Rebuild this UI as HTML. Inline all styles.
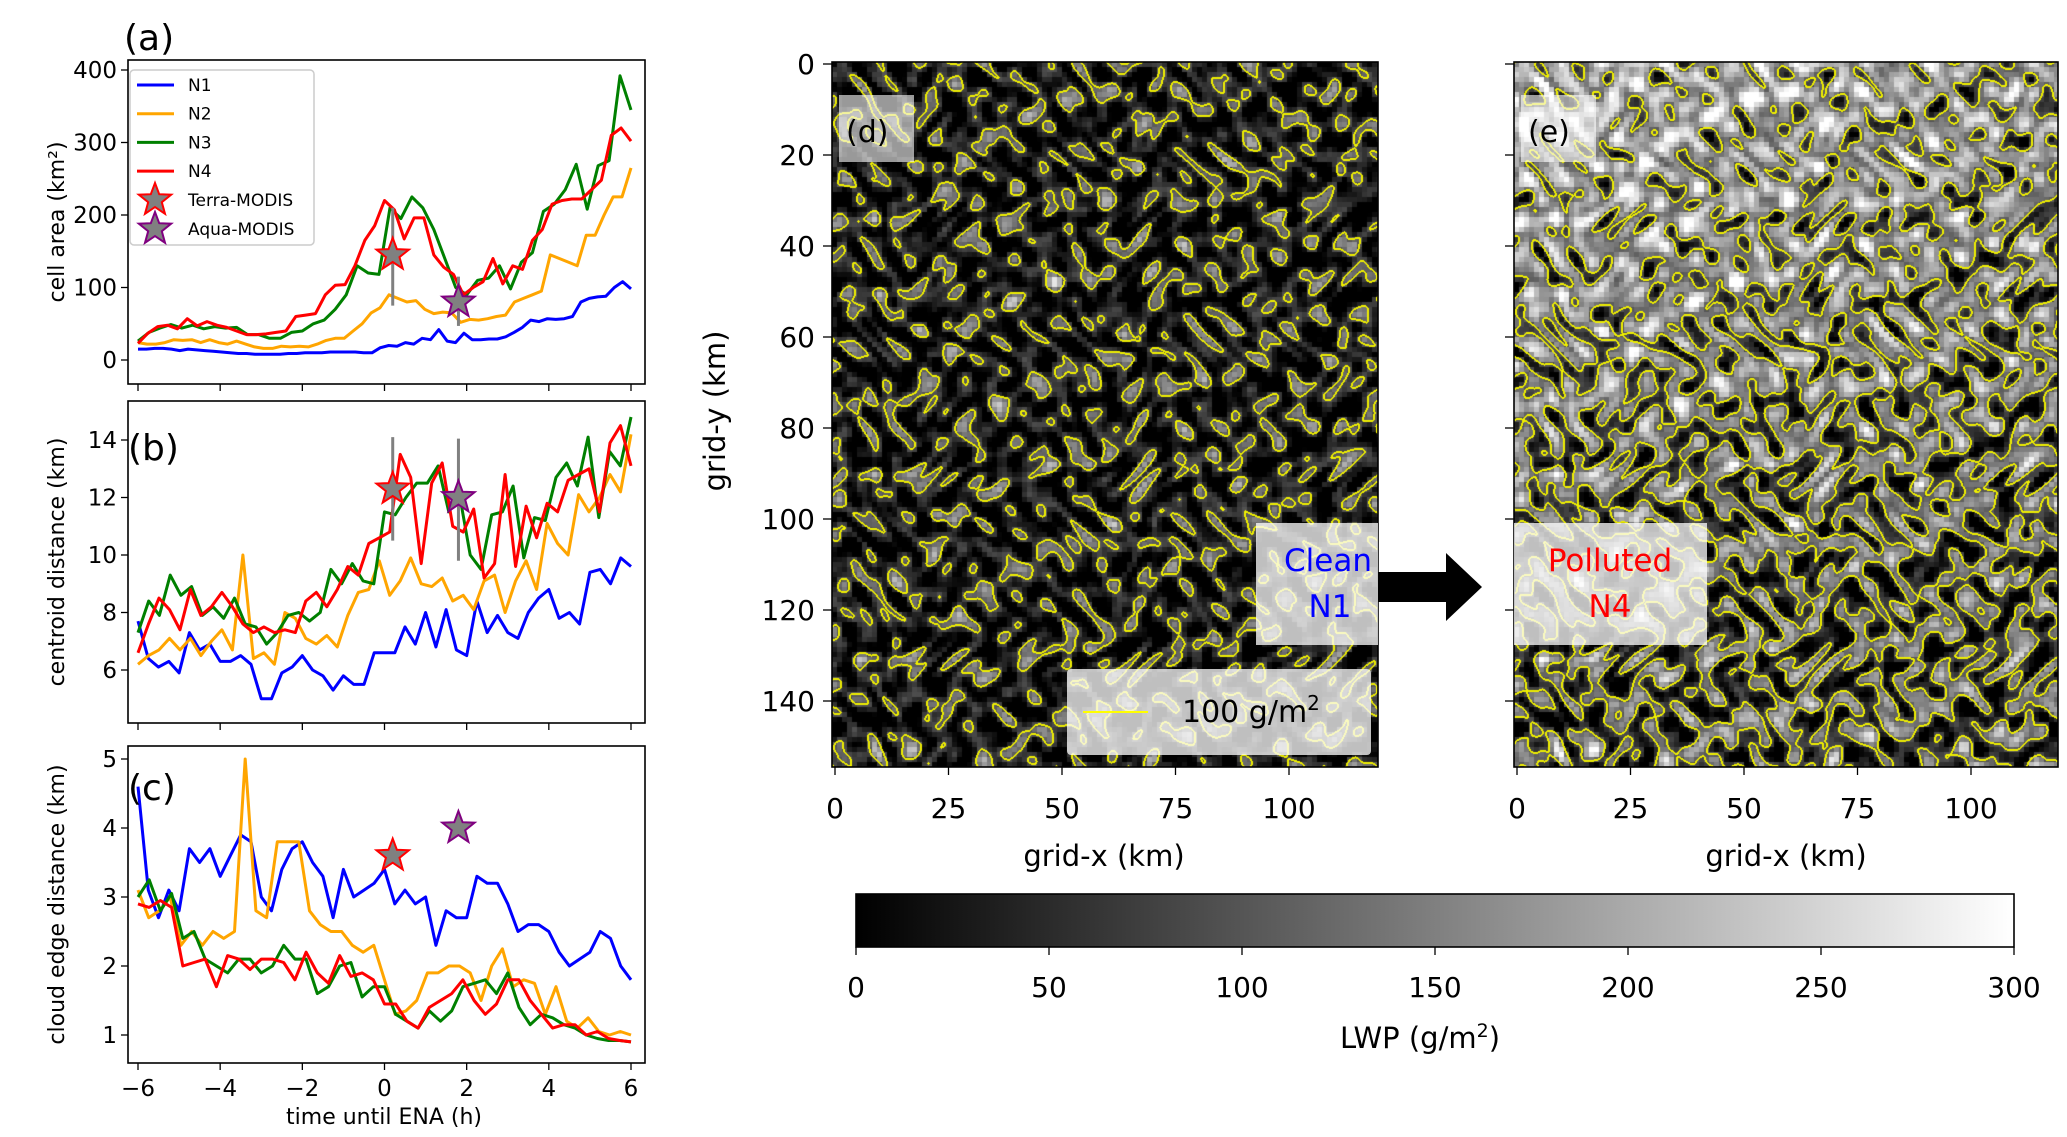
<!DOCTYPE html>
<html><head><meta charset="utf-8">
<style>
html,body{margin:0;padding:0;background:#fff;}
#wrap{position:relative;width:2067px;height:1137px;overflow:hidden;font-family:"Liberation Sans","DejaVu Sans",sans-serif;}
canvas{position:absolute;}
svg{position:absolute;left:0;top:0;}
text{font-family:"DejaVu Sans","Liberation Sans",sans-serif;}
</style></head>
<body>
<div id="wrap">
<canvas id="hd" width="546" height="705" style="left:832px;top:62px;"></canvas>
<canvas id="he" width="544" height="705" style="left:1514px;top:62px;"></canvas>
<svg id="svg" width="2067" height="1137" xmlns="http://www.w3.org/2000/svg"></svg>
</div>
<script>
// ---- data ----
const n1a=[15,15,16,16,15,13,15,14,13,12,11,10,9,9,8,8,8,8,9,9,10,10,10,11,11,11,11,10,10,17,20,19,24,22,30,28,42,26,24,37,28,28,29,29,32,38,45,55,53,57,56,57,60,80,85,87,88,100,108,98];
const n2a=[24,22,22,24,28,27,28,24,28,24,22,26,22,18,16,16,19,18,19,18,22,27,30,30,40,50,65,72,90,85,80,82,70,64,66,65,52,56,55,57,60,62,80,85,90,95,145,140,135,130,172,172,200,225,225,265];
const n3a=[26,38,44,49,44,48,43,46,44,45,35,35,30,30,38,40,50,55,70,90,130,120,118,210,195,225,210,180,140,100,90,110,113,130,98,135,148,205,215,235,270,208,268,275,392,345];
const n4a=[23,37,46,48,43,57,47,53,48,45,40,35,35,36,38,40,60,62,64,90,103,104,130,165,185,220,207,167,196,196,145,128,118,90,100,108,140,105,130,125,165,180,215,220,222,222,235,248,310,320,302];
const n1b=[7.7,6.4,6.1,6.3,5.9,7.3,6.7,6.9,6.3,6.3,6.5,6.2,5.0,5.0,5.9,6.1,6.5,6.0,5.8,5.3,5.8,5.5,5.5,6.6,6.6,6.6,7.5,6.9,8.0,6.8,8.1,6.7,6.5,8.4,7.3,7.9,7.3,7.1,8.0,8.5,8.8,7.8,8.0,7.6,9.4,9.5,9.0,9.9,9.6];
const n2b=[6.2,6.5,6.7,7.1,6.7,7.1,6.5,7.0,7.4,6.7,10.0,6.4,6.6,6.2,8.0,7.8,7.1,6.9,7.2,6.8,7.9,8.7,8.8,9.8,8.6,9.1,9.9,9.0,8.9,9.2,8.4,8.6,8.1,9.1,9.3,8.0,9.1,9.8,8.8,11.1,10.4,10.0,12.1,11.5,12.0,12.8,12.2,14.2];
const n3b=[7.3,8.4,7.9,9.3,8.6,8.9,7.9,8.2,7.8,8.5,7.6,7.5,6.9,7.3,7.9,8.0,7.7,8.0,9.5,9.0,9.7,9.1,9.0,11.5,11.4,12.0,12.5,12.5,13.1,11.5,12.1,10.0,9.5,11.4,11.5,12.4,9.9,11.3,11.2,12.7,13.2,12.4,14.1,11.3,13.6,13.1,14.8];
const n4b=[6.6,7.6,8.5,8.1,7.4,8.8,7.9,8.2,8.7,8.2,7.6,7.3,7.5,7.3,7.4,7.3,8.4,8.7,8.2,8.8,9.6,9.3,10.4,10.6,10.8,13.5,12.7,9.7,12.5,13.2,11.0,10.8,11.6,9.2,9.7,12.8,9.6,11.7,10.6,11.8,11.5,12.6,12.8,13.0,11.5,13.9,14.5,13.1];
const n1c=[4.6,3.1,2.7,3.1,2.8,3.7,3.5,3.7,3.3,3.6,3.9,3.8,3.0,2.8,3.4,3.7,3.8,3.5,3.3,2.7,3.4,3.0,3.1,3.2,3.4,2.9,3.1,2.9,3.0,2.3,2.8,2.7,2.7,3.3,3.2,3.2,2.9,2.5,2.6,2.6,2.5,2.2,2.0,2.1,2.2,2.5,2.4,2.0,1.8];
const n2c=[3.1,2.7,2.8,3.0,2.3,2.5,2.3,2.5,2.4,2.5,5.0,2.8,2.7,3.8,3.8,3.8,2.8,2.6,2.5,2.5,2.3,2.2,2.3,1.8,1.3,1.35,1.5,1.9,1.9,2.0,2.0,1.9,1.5,2.0,2.25,1.7,1.8,1.75,1.3,1.7,1.2,1.1,1.25,1.05,1.0,1.05,1.0];
const n3c=[3.0,3.25,2.8,3.05,2.4,2.5,2.1,2.0,1.9,2.1,2.1,1.9,2.0,2.3,2.1,2.1,1.6,1.7,2.0,2.05,1.55,1.7,1.7,1.3,1.2,1.1,1.35,1.2,1.35,1.7,1.75,1.8,1.6,1.9,1.4,1.15,1.3,1.25,1.15,1.1,1.0,0.95,0.92,0.92,0.9];
const n4c=[2.9,2.85,2.95,2.85,2.0,2.05,2.1,1.7,2.15,2.1,1.95,2.1,2.1,2.05,1.8,2.2,1.9,1.75,2.15,1.85,1.9,1.8,1.45,1.45,1.2,1.1,1.4,1.5,1.6,1.8,1.5,1.3,1.45,1.8,1.8,1.5,1.3,1.1,1.15,1.15,1.0,1.05,0.95,0.92,0.9];
const starT=[0.2,0.2,0.2]; const terraVals=[145,12.3,3.6]; const terraLo=[75,10.5,null]; const terraHi=[210,14.1,null];
const starA=[1.8,1.8,1.8]; const aquaVals=[80,12.0,4.0]; const aquaLo=[47,9.8,null]; const aquaHi=[115,14.05,null];
const xTicks=[-6,-4,-2,0,2,4,6];
const yTicksA=[0,100,200,300,400]; const yTicksB=[6,8,10,12,14]; const yTicksC=[1,2,3,4,5];
const mapTicksX=[0,25,50,75,100]; const mapTicksY=[0,20,40,60,80,100,120,140];
const cbTicks=[0,50,100,150,200,250,300];

const NS="http://www.w3.org/2000/svg";
const svg=document.getElementById('svg');
function el(tag,attrs,parent){const e=document.createElementNS(NS,tag);for(const k in attrs)e.setAttribute(k,attrs[k]);(parent||svg).appendChild(e);return e;}
function txt(s,attrs,parent){const e=el('text',attrs,parent);e.textContent=s;return e;}

const X=t=>138+(t+6)/12*(631-138);
const panels=[
 {name:'a',top:60,bot:384,y:v=>360-v/400*290,ticks:yTicksA,series:[n1a,n2a,n3a,n4a],label:'cell area (km²)',lab:'(a)',labY:50,labX:124,idx:0},
 {name:'b',top:401,bot:723,y:v=>670-(v-6)/8*230,ticks:yTicksB,series:[n1b,n2b,n3b,n4b],label:'centroid distance (km)',lab:'(b)',labY:460,labX:128,idx:1},
 {name:'c',top:746,bot:1063,y:v=>1035-(v-1)/4*276,ticks:yTicksC,series:[n1c,n2c,n3c,n4c],label:'cloud edge distance (km)',lab:'(c)',labY:800,labX:128,idx:2}
];
const colors=['#0000ff','#ffa500','#008000','#ff0000'];
function starPts(cx,cy,R){const r=R*0.42;let p=[];for(let i=0;i<10;i++){const a=-Math.PI/2+i*Math.PI/5;const rr=i%2?r:R;p.push((cx+rr*Math.cos(a)).toFixed(1)+','+(cy+rr*Math.sin(a)).toFixed(1));}return p.join(' ');}
panels.forEach(p=>{
  const g=el('g',{});
  
  
  p.series.forEach((s,si)=>{
    const pts=s.map((v,i)=>X(-6+12*i/(s.length-1)).toFixed(1)+','+p.y(v).toFixed(1)).join(' ');
    const l=el('polyline',{points:pts,fill:'none',stroke:colors[si],'stroke-width':3,'stroke-linejoin':'round'},g);
    
    
  });
  const i=p.idx;
  if(terraLo[i]!==null){const e1=el('line',{x1:X(starT[i]),x2:X(starT[i]),y1:p.y(terraLo[i]),y2:p.y(terraHi[i]),stroke:'#808080','stroke-width':3},g);}
  if(aquaLo[i]!==null){const e2=el('line',{x1:X(starA[i]),x2:X(starA[i]),y1:p.y(aquaLo[i]),y2:p.y(aquaHi[i]),stroke:'#808080','stroke-width':3},g);}
  const s1=el('polygon',{points:starPts(X(starT[i]),p.y(terraVals[i]),17),fill:'#808080',stroke:'#ff0000','stroke-width':2},g);
  
  const s2=el('polygon',{points:starPts(X(starA[i]),p.y(aquaVals[i]),17),fill:'#808080',stroke:'#800080','stroke-width':2},g);
  
  const fr=el('rect',{x:128,y:p.top,width:517,height:p.bot-p.top,fill:'none',stroke:'#000','stroke-width':1.6},g);
  
  p.ticks.forEach(t=>{el('line',{x1:121,x2:128,y1:p.y(t),y2:p.y(t),stroke:'#000','stroke-width':1.3},g);
    const tl=txt(String(t),{x:117,y:p.y(t)+8,'text-anchor':'end','font-size':23},g);});
  xTicks.forEach(t=>{el('line',{x1:X(t),x2:X(t),y1:p.bot,y2:p.bot+7,stroke:'#000','stroke-width':1.3},g);});
  const cy=(p.top+p.bot)/2;
  const yl=txt(p.label,{x:0,y:0,transform:`translate(64,${cy}) rotate(-90)`,'text-anchor':'middle','font-size':22},g);
  
  const pl=txt(p.lab,{x:p.labX,y:p.labY,'font-size':36},g);
  
});
xTicks.forEach(t=>{const tl=txt(String(t).replace('-','−'),{x:X(t),y:1096,'text-anchor':'middle','font-size':23});});
const xt=txt('time until ENA (h)',{x:384,y:1124,'text-anchor':'middle','font-size':22});

// legend
const lg=el('g',{});

el('rect',{x:130,y:70,width:184,height:175,fill:'#fff',stroke:'#ccc','stroke-width':1.5,rx:4},lg);
const lnames=['N1','N2','N3','N4'];
lnames.forEach((n,i)=>{const y=85+i*28.7;el('line',{x1:137,x2:174,y1:y,y2:y,stroke:colors[i],'stroke-width':3},lg);
  const t=txt(n,{x:188,y:y+6,'font-size':17},lg);});
el('polygon',{points:starPts(155,200,17),fill:'#808080',stroke:'#ff0000','stroke-width':2},lg);
txt('Terra-MODIS',{x:188,y:206,'font-size':17},lg);
el('polygon',{points:starPts(155,229,17),fill:'#808080',stroke:'#800080','stroke-width':2},lg);
txt('Aqua-MODIS',{x:188,y:235,'font-size':17},lg);

// maps
const mx=(x0,v)=>x0+3+v*4.54;
const my=v=>64+v*4.55;
const comps=[[0.071,-0.052,0.3],[0.048,0.083,1.7],[0.109,-0.031,2.9],[-0.037,0.097,4.1],[0.129,0.067,0.8],[0.062,-0.121,5.3],[0.153,-0.094,3.7],[-0.088,-0.143,2.2],[0.027,0.041,1.1]];
function field(x,y,pol){
  const S=1.7;
  const wx=x+12*Math.sin(0.03*y+0.9)+7*Math.sin(0.07*y+2.3);
  const wy=y+12*Math.sin(0.035*x+1.7)+7*Math.sin(0.06*x+0.4);
  let n=0;
  for(const c of comps) n+=Math.sin(S*(c[0]*wx+c[1]*wy)+c[2]);
  n*=0.75;
  if(!pol) return 45+38*n;
  return 85+45*n+120*Math.max(0,1-y/520)*(1-0.45*x/544);
}
function drawMap(id,pol){
  const c=document.getElementById(id),ctx=c.getContext('2d'),W=c.width,H=c.height;
  const img=ctx.createImageData(W,H);const d=img.data;
  const F=new Float32Array(W*H);
  for(let y=0;y<H;y++)for(let x=0;x<W;x++)F[y*W+x]=field(x,y,pol);
  for(let y=0;y<H;y++)for(let x=0;x<W;x++){
    const bx=Math.min(W-1,Math.floor(x/5)*5+2),by=Math.min(H-1,Math.floor(y/5)*5+2);
    let v=F[by*W+bx];let g=Math.max(0,Math.min(255,v/300*255));
    const k=(y*W+x)*4;
    const a=F[y*W+x]-100;
    let edge=false;
    const nb=[[1,0],[0,1],[-1,0],[0,-1]];
    for(const [dx,dy] of nb){const xx=x+dx,yy=y+dy;if(xx<0||yy<0||xx>=W||yy>=H)continue;if((F[yy*W+xx]-100>0)!==(a>0)){edge=true;break;}}
    if(edge){d[k]=240;d[k+1]=240;d[k+2]=0;}
    else{d[k]=g;d[k+1]=g;d[k+2]=g;}
    d[k+3]=255;
  }
  ctx.putImageData(img,0,0);
}
drawMap('hd',false);drawMap('he',true);
[[832,'d'],[1514,'e']].forEach(([x0,n])=>{
  const g=el('g',{});
  
  el('rect',{x:x0,y:62,width:n==='d'?546:544,height:705,fill:'none',stroke:'#000','stroke-width':1.6},g);
  mapTicksX.forEach(t=>{el('line',{x1:mx(x0,t),x2:mx(x0,t),y1:767,y2:775,stroke:'#000','stroke-width':1.3},g);
    txt(String(t),{x:mx(x0,t),y:818,'text-anchor':'middle','font-size':28},g);});
  mapTicksY.forEach(t=>{el('line',{x1:x0-9,x2:x0,y1:my(t),y2:my(t),stroke:'#000','stroke-width':1.3},g);
    if(n==='d')txt(String(t),{x:x0-17,y:my(t)+10,'text-anchor':'end','font-size':28},g);});
  const xl=txt('grid-x (km)',{x:x0+272,y:866,'text-anchor':'middle','font-size':29},g);
  
  el('rect',{x:x0+7,y:95,width:75,height:67,fill:'rgba(255,255,255,0.6)'},g);
  const pl=txt('('+n+')',{x:x0+14,y:142,'font-size':30},g);
  
});
const gy=txt('grid-y (km)',{x:0,y:0,transform:'translate(725,411) rotate(-90)','text-anchor':'middle','font-size':29});

el('rect',{x:1256,y:523,width:122,height:122,fill:'rgba(255,255,255,0.75)'});
const cl=txt('Clean',{x:1372,y:571,'text-anchor':'end','font-size':31,fill:'#0000ff'});
txt('N1',{x:1330,y:617,'text-anchor':'middle','font-size':31,fill:'#0000ff'});
el('rect',{x:1514,y:523,width:193,height:122,fill:'rgba(255,255,255,0.75)'});
const pol=txt('Polluted',{x:1610,y:571,'text-anchor':'middle','font-size':31,fill:'#ff0000'});
txt('N4',{x:1610,y:617,'text-anchor':'middle','font-size':31,fill:'#ff0000'});
const ar=el('polygon',{points:'1378,572 1446,572 1446,553 1482,587 1446,621 1446,602 1378,602',fill:'#000'});

const cb2=el('g',{});
el('rect',{x:1067,y:669,width:304,height:86,fill:'rgba(255,255,255,0.75)',rx:4},cb2);
el('line',{x1:1083,x2:1148,y1:712,y2:712,stroke:'#ffff00','stroke-width':2},cb2);
const ct=txt('100 g/m',{x:1182,y:722,'font-size':30},cb2);
const sup=el('tspan',{dy:-12,'font-size':20},ct);sup.textContent='2';
// colorbar
const defs=el('defs',{});
const lgr=el('linearGradient',{id:'gr',x1:0,x2:1,y1:0,y2:0},defs);
el('stop',{offset:0,'stop-color':'#000'},lgr);el('stop',{offset:1,'stop-color':'#fff'},lgr);
const cbar=el('rect',{x:856,y:894,width:1158,height:53,fill:'url(#gr)',stroke:'#000','stroke-width':1.6});

cbTicks.forEach(t=>{const x=856+t/300*1158;el('line',{x1:x,x2:x,y1:947,y2:955,stroke:'#000','stroke-width':1.3});
  txt(String(t),{x:x,y:997,'text-anchor':'middle','font-size':28});});
const lw=txt('LWP (g/m',{x:1420,y:1048,'text-anchor':'middle','font-size':29});

const s2=el('tspan',{dy:-11,'font-size':19},lw);s2.textContent='2';
const s3=el('tspan',{dy:11,'font-size':29},lw);s3.textContent=')';
</script>
</body></html>
